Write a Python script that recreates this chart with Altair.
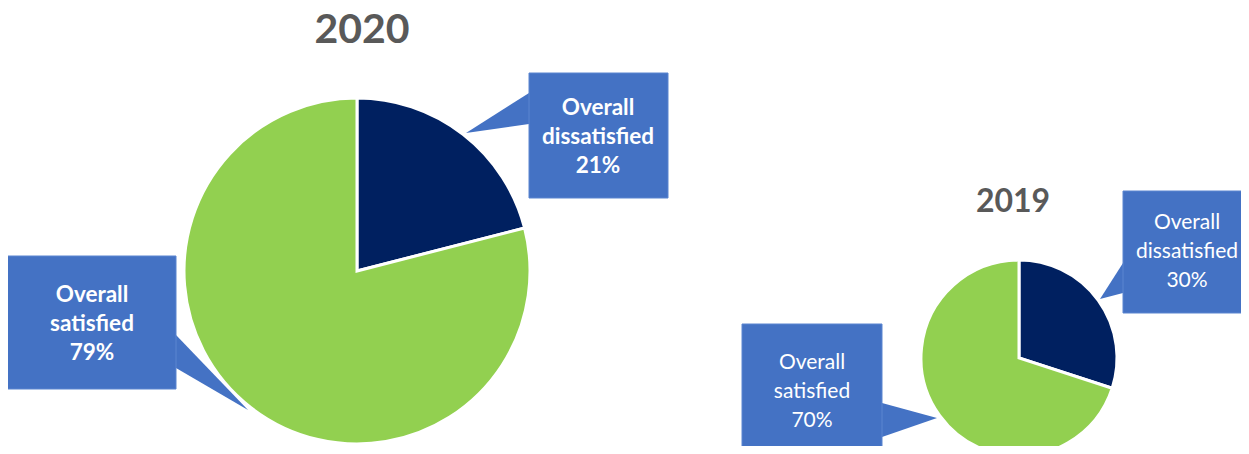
import altair as alt
import pandas as pd

# ---- data ----
categories = ["Overall dissatisfied", "Overall satisfied"]
values_2020 = [21, 79]
values_2019 = [30, 70]
years = ["2020", "2019"]
colors = ["#002060", "#92D050"]

# ---- layout (image pixel coordinates) ----
W, H = 1249, 454
M = 8
CW, CH = W - 2 * M, H - 2 * M
FONT = "Lato"
# title position is the text baseline
pie_layout = {
    "2020": {"cx": 357, "cy": 271, "r": 173, "title": (362, 43), "tsize": 41},
    "2019": {"cx": 1019, "cy": 358, "r": 98, "title": (1013, 212), "tsize": 32},
}
# callout boxes: x, x2, y, y2, first text line centre, tail (edge x, y_a, y_b, tip x, tip y)
callouts = {
    ("2020", "Overall dissatisfied"): {"box": (529, 668, 73, 198), "txt": (598, 108), "tail": (529, 93, 124, 466, 133)},
    ("2020", "Overall satisfied"): {"box": (7, 176, 256, 389), "txt": (92, 295), "tail": (176, 335, 368, 248, 410)},
    ("2019", "Overall dissatisfied"): {"box": (1123, 1260, 191, 313), "txt": (1187, 223), "tail": (1123, 263, 293, 1100, 299)},
    ("2019", "Overall satisfied"): {"box": (742, 882, 324, 470), "txt": (812, 363), "tail": (882, 403, 437, 937, 418)},
}

xs = alt.Scale(domain=[M, W - M], range=[0, CW], zero=False, nice=False)
ys = alt.Scale(domain=[M, H - M], range=[0, CH], zero=False, nice=False)
col_scale = alt.Scale(domain=categories, range=colors)

layers = []
for year, vals in zip(years, [values_2020, values_2019]):
    lay = pie_layout[year]
    df = pd.DataFrame({"category": categories, "value": vals, "order": [0, 1]})
    pie = alt.Chart(df).mark_arc(outerRadius=lay["r"], stroke="white", strokeWidth=3).encode(
        theta=alt.Theta("value:Q", stack=True),
        color=alt.Color("category:N", scale=col_scale, legend=None),
        order=alt.Order("order:Q"),
        x=alt.value(lay["cx"] - M),
        y=alt.value(lay["cy"] - M),
    )
    layers.append(pie)
    title = alt.Chart(pd.DataFrame({"t": [year]})).mark_text(
        font=FONT, fontWeight="bold", fontSize=lay["tsize"], color="#595959",
        align="center", baseline="alphabetic",
    ).encode(text="t:N", x=alt.value(lay["title"][0] - M), y=alt.value(lay["title"][1] - M))
    layers.append(title)

# callout tails and boxes
tail_rows, box_rows, lab_rows = [], [], []
for year, vals in zip(years, [values_2020, values_2019]):
    for cat, v in zip(categories, vals):
        c = callouts[(year, cat)]
        ex, ya, yb, tx, ty = c["tail"]
        key = f"{year}-{cat}"
        tail_rows.append({"id": key, "x": ex, "y": ya, "y2": yb})
        tail_rows.append({"id": key, "x": tx, "y": ty, "y2": ty})
        x1, x2, y1, y2 = c["box"]
        box_rows.append({"id": key, "x": x1, "x2": x2, "y": y1, "y2": y2})
        w1, w2 = cat.split(" ", 1)
        lab_rows.append({"id": key, "year": year, "label": f"{w1}\n{w2}\n{v}%",
                         "x": c["txt"][0], "y": c["txt"][1]})

blue = "#4472C4"
tails = alt.Chart(pd.DataFrame(tail_rows)).mark_area(color=blue, orient="vertical").encode(
    x=alt.X("x:Q", scale=xs, axis=None),
    y=alt.Y("y:Q", scale=ys, axis=None, stack=None),
    y2="y2:Q",
    detail="id:N",
)
boxes = alt.Chart(pd.DataFrame(box_rows)).mark_rect(color=blue, stroke="#5B85D0", strokeWidth=1).encode(
    x=alt.X("x:Q", scale=xs, axis=None),
    x2="x2:Q",
    y=alt.Y("y:Q", scale=ys, axis=None),
    y2="y2:Q",
)
layers += [tails, boxes]

lab_df = pd.DataFrame(lab_rows)
for year, weight, size in [("2020", "bold", 22.5), ("2019", "normal", 21)]:
    t = alt.Chart(lab_df[lab_df["year"] == year]).mark_text(
        font=FONT, fontWeight=weight, fontSize=size, color="white",
        align="center", baseline="middle", lineBreak="\n", lineHeight=29,
    ).encode(
        text="label:N",
        x=alt.X("x:Q", scale=xs, axis=None),
        y=alt.Y("y:Q", scale=ys, axis=None),
    )
    layers.append(t)

chart = alt.layer(*layers).properties(
    width=CW, height=CH, padding=0, autosize="none", background="white",
).configure_view(stroke=None, clip=False)

chart.save("out.html", embed_options={"renderer": "svg", "actions": False})
